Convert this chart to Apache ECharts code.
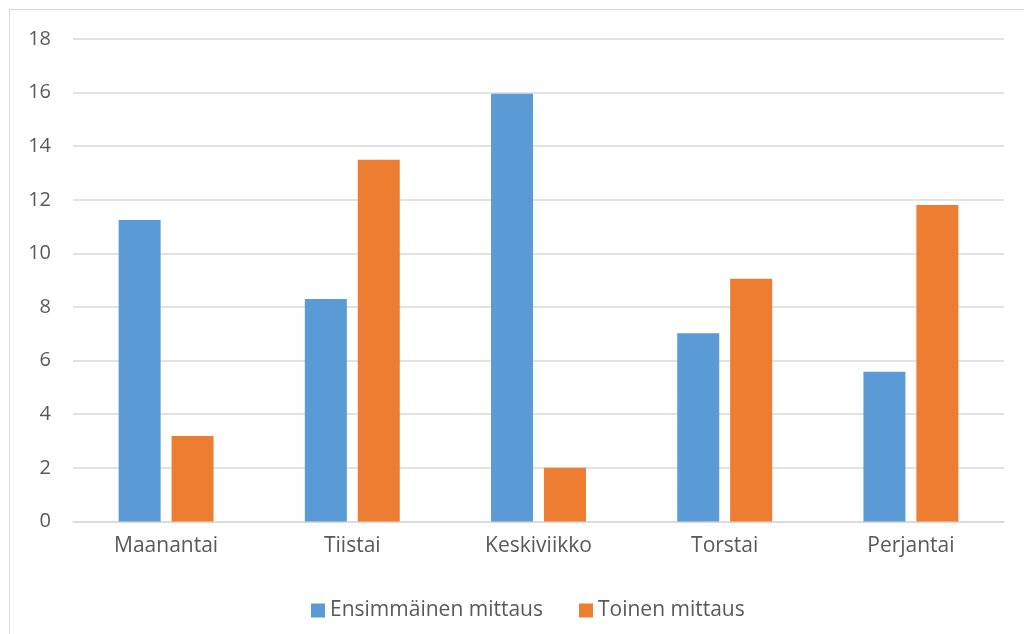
<!DOCTYPE html>
<html>
<head>
<meta charset="utf-8">
<script src="https://cdn.jsdelivr.net/npm/echarts@6/dist/echarts.min.js"></script>
<style>
  html, body { margin: 0; padding: 0; background: #fff; overflow: hidden; }
  #frame { position: absolute; left: 9px; top: 9px; width: 1100px; height: 700px;
           border: 1px solid #d9d9d9; box-sizing: border-box; }
  #chart { position: absolute; left: 0; top: 0; width: 1024px; height: 634px; }
</style>
</head>
<body>
<div id="frame"></div>
<div id="chart"></div>
<script>
// Weekdays and the two measurement rounds
const days = ['Maanantai', 'Tiistai', 'Keskiviikko', 'Torstai', 'Perjantai'];
const firstRound = [11.25, 8.3, 15.96, 7.02, 5.58];
const secondRound = [3.19, 13.49, 2.0, 9.05, 11.81];
const seriesNames = ['Ensimmäinen mittaus', 'Toinen mittaus'];
const yTicks = { min: 0, max: 18, interval: 2 };

const textColor = '#595959';
const gridColor = '#d9d9d9';
const fontFamily = '"Open Sans", "Liberation Sans", sans-serif';

const chart = echarts.init(document.getElementById('chart'), null, { renderer: 'canvas' });
chart.setOption({
  backgroundColor: 'transparent',
  animation: false,
  textStyle: { fontFamily: fontFamily },
  grid: { left: 73, right: 20, top: 39, bottom: 112.6, containLabel: false },
  legend: {
    data: seriesNames,
    top: 595,
    left: 306,
    itemWidth: 14,
    itemHeight: 14,
    itemGap: 36,
    icon: 'rect',
    textStyle: { color: textColor, fontSize: 21, fontFamily: fontFamily }
  },
  xAxis: {
    type: 'category',
    data: days,
    axisLine: { show: true, lineStyle: { color: gridColor, width: 1.5 } },
    axisTick: { show: false },
    axisLabel: { color: textColor, fontSize: 21, margin: 14, fontFamily: fontFamily }
  },
  yAxis: {
    type: 'value',
    min: yTicks.min,
    max: yTicks.max,
    interval: yTicks.interval,
    axisLine: { show: false },
    axisTick: { show: false },
    splitLine: { lineStyle: { color: gridColor, width: 1.5 } },
    axisLabel: { color: textColor, fontSize: 20, margin: 22, fontFamily: fontFamily }
  },
  series: [
    {
      name: seriesNames[0],
      type: 'bar',
      data: firstRound,
      barWidth: 42,
      barGap: '26%',
      itemStyle: { color: '#5b9bd5' }
    },
    {
      name: seriesNames[1],
      type: 'bar',
      data: secondRound,
      barWidth: 42,
      barGap: '26%',
      itemStyle: { color: '#ed7d31' }
    }
  ]
});
</script>
</body>
</html>
